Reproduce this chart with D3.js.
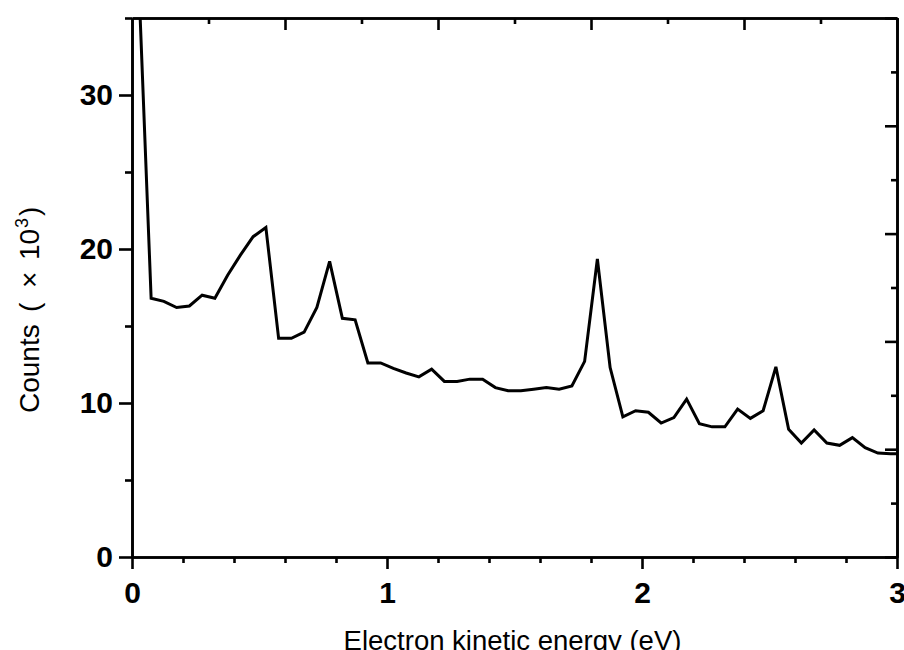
<!DOCTYPE html>
<html>
<head>
<meta charset="utf-8">
<script src="https://cdn.jsdelivr.net/npm/d3@7"></script>
<style>
  html, body { margin: 0; padding: 0; background: #fff; }
  svg { display: block; }
  text { font-family: "Liberation Sans", Arial, sans-serif; fill: #000; }
</style>
</head>
<body>
<svg id="chart" width="904" height="650"></svg>
<script>
// Electron kinetic energy (eV)
const energy = [0.025, 0.075, 0.125, 0.175, 0.225, 0.275, 0.325, 0.375, 0.425, 0.475,
                0.525, 0.575, 0.625, 0.675, 0.725, 0.775, 0.825, 0.875, 0.925, 0.975,
                1.025, 1.075, 1.125, 1.175, 1.225, 1.275, 1.325, 1.375, 1.425, 1.475,
                1.525, 1.575, 1.625, 1.675, 1.725, 1.775, 1.825, 1.875, 1.925, 1.975,
                2.025, 2.075, 2.125, 2.175, 2.225, 2.275, 2.325, 2.375, 2.425, 2.475,
                2.525, 2.575, 2.625, 2.675, 2.725, 2.775, 2.825, 2.875, 2.925, 2.975, 3.025];
// Counts (x10^3)
const counts = [38.0, 16.8, 16.6, 16.2, 16.3, 17.0, 16.8, 18.3, 19.6, 20.8,
                21.4, 14.2, 14.2, 14.6, 16.2, 19.2, 15.5, 15.4, 12.6, 12.6,
                12.25, 11.95, 11.7, 12.2, 11.4, 11.4, 11.55, 11.55, 11.0, 10.8,
                10.8, 10.9, 11.0, 10.9, 11.1, 12.7, 19.35, 12.3, 9.1, 9.5,
                9.4, 8.7, 9.05, 10.25, 8.65, 8.45, 8.45, 9.6, 9.0, 9.5,
                12.35, 8.3, 7.4, 8.25, 7.4, 7.25, 7.75, 7.1, 6.75, 6.7, 6.7];

const xMajorTicks = [0, 1, 2, 3];
const xMinorTicks = [0.2, 0.4, 0.6, 0.8, 1.2, 1.4, 1.6, 1.8, 2.2, 2.4, 2.6, 2.8];
const yMajorTicks = [0, 10, 20, 30];
const yMinorTicks = [5, 15, 25, 35];
const topMajorTicks = [0.6, 1.2, 1.8, 2.4, 3.0];
const topMinorTicks = [0.3, 0.9, 1.5, 2.1, 2.7];
const rightMajorTicks = [0, 7, 14, 21, 28, 35];
const rightMinorTicks = [3.5, 10.5, 17.5, 24.5, 31.5];

const xTitle = "Electron kinetic energy (eV)";

const margin = {left: 132, right: 7, top: 18, bottom: 93};
const W = 904, H = 650;
const iw = W - margin.left - margin.right;
const ih = H - margin.top - margin.bottom;

const svg = d3.select("#chart");
const g = svg.append("g").attr("transform", `translate(${margin.left},${margin.top})`);

const x = d3.scaleLinear().domain([0, 3]).range([0, iw]);
const y = d3.scaleLinear().domain([0, 35]).range([ih, 0]);

g.append("clipPath").attr("id", "clip")
  .append("rect").attr("x", 0).attr("y", 0).attr("width", iw).attr("height", ih);

const data = energy.map((e, i) => ({e, c: counts[i]}));
const line = d3.line().x(d => x(d.e)).y(d => y(d.c));

g.append("path")
  .datum(data)
  .attr("clip-path", "url(#clip)")
  .attr("fill", "none")
  .attr("stroke", "#000")
  .attr("stroke-width", 3)
  .attr("stroke-linejoin", "miter")
  .attr("d", line);

function styleAxis(sel) {
  sel.selectAll("path.domain").attr("stroke", "#000").attr("stroke-width", 2.6);
  sel.selectAll(".tick line").attr("stroke", "#000").attr("stroke-width", 2.6);
  sel.selectAll(".tick text")
    .style("font-family", '"Liberation Sans", Arial, sans-serif')
    .style("font-size", "30px")
    .style("font-weight", "bold")
    .attr("fill", "#000");
}

// Bottom axis
g.append("g").attr("transform", `translate(0,${ih})`)
  .call(d3.axisBottom(x).tickValues(xMinorTicks).tickSize(6).tickSizeOuter(0).tickFormat(""))
  .call(styleAxis);
g.append("g").attr("transform", `translate(0,${ih})`)
  .call(d3.axisBottom(x).tickValues(xMajorTicks).tickSize(12).tickSizeOuter(0).tickPadding(13).tickFormat(d3.format("d")))
  .call(styleAxis);

// Left axis
g.append("g")
  .call(d3.axisLeft(y).tickValues(yMinorTicks).tickSize(7).tickSizeOuter(0).tickFormat(""))
  .call(styleAxis);
g.append("g")
  .call(d3.axisLeft(y).tickValues(yMajorTicks).tickSize(13).tickSizeOuter(0).tickPadding(6).tickFormat(d3.format("d")))
  .call(styleAxis);

// Top axis (inward ticks)
g.append("g")
  .call(d3.axisTop(x).tickValues(topMinorTicks).tickSize(-6).tickSizeOuter(0).tickFormat(""))
  .call(styleAxis);
g.append("g")
  .call(d3.axisTop(x).tickValues(topMajorTicks).tickSize(-12).tickSizeOuter(0).tickFormat(""))
  .call(styleAxis);

// Right axis (inward ticks)
g.append("g").attr("transform", `translate(${iw},0)`)
  .call(d3.axisRight(y).tickValues(rightMinorTicks).tickSize(-6).tickSizeOuter(0).tickFormat(""))
  .call(styleAxis);
g.append("g").attr("transform", `translate(${iw},0)`)
  .call(d3.axisRight(y).tickValues(rightMajorTicks).tickSize(-12).tickSizeOuter(0).tickFormat(""))
  .call(styleAxis);

// X title
svg.append("text")
  .attr("x", margin.left + iw / 2 - 2)
  .attr("y", 650)
  .attr("text-anchor", "middle")
  .style("font-size", "27.5px")
  .text(xTitle);

// Y title (rotated; rotated x runs upward on screen, centre at screen y=300)
const yt = svg.append("text")
  .attr("transform", "translate(39,300) rotate(-90)")
  .attr("text-anchor", "start")
  .style("font-size", "28px");
yt.append("tspan").attr("x", -113).text("Counts");
yt.append("tspan").attr("x", -12).text("(");
yt.append("tspan").attr("x", 12).text("×");
yt.append("tspan").attr("x", 40).text("10");
yt.append("tspan").attr("x", 72).attr("dy", -11).style("font-size", "18px").text("3");
yt.append("tspan").attr("x", 84).attr("dy", 11).text(")");
</script>
</body>
</html>
